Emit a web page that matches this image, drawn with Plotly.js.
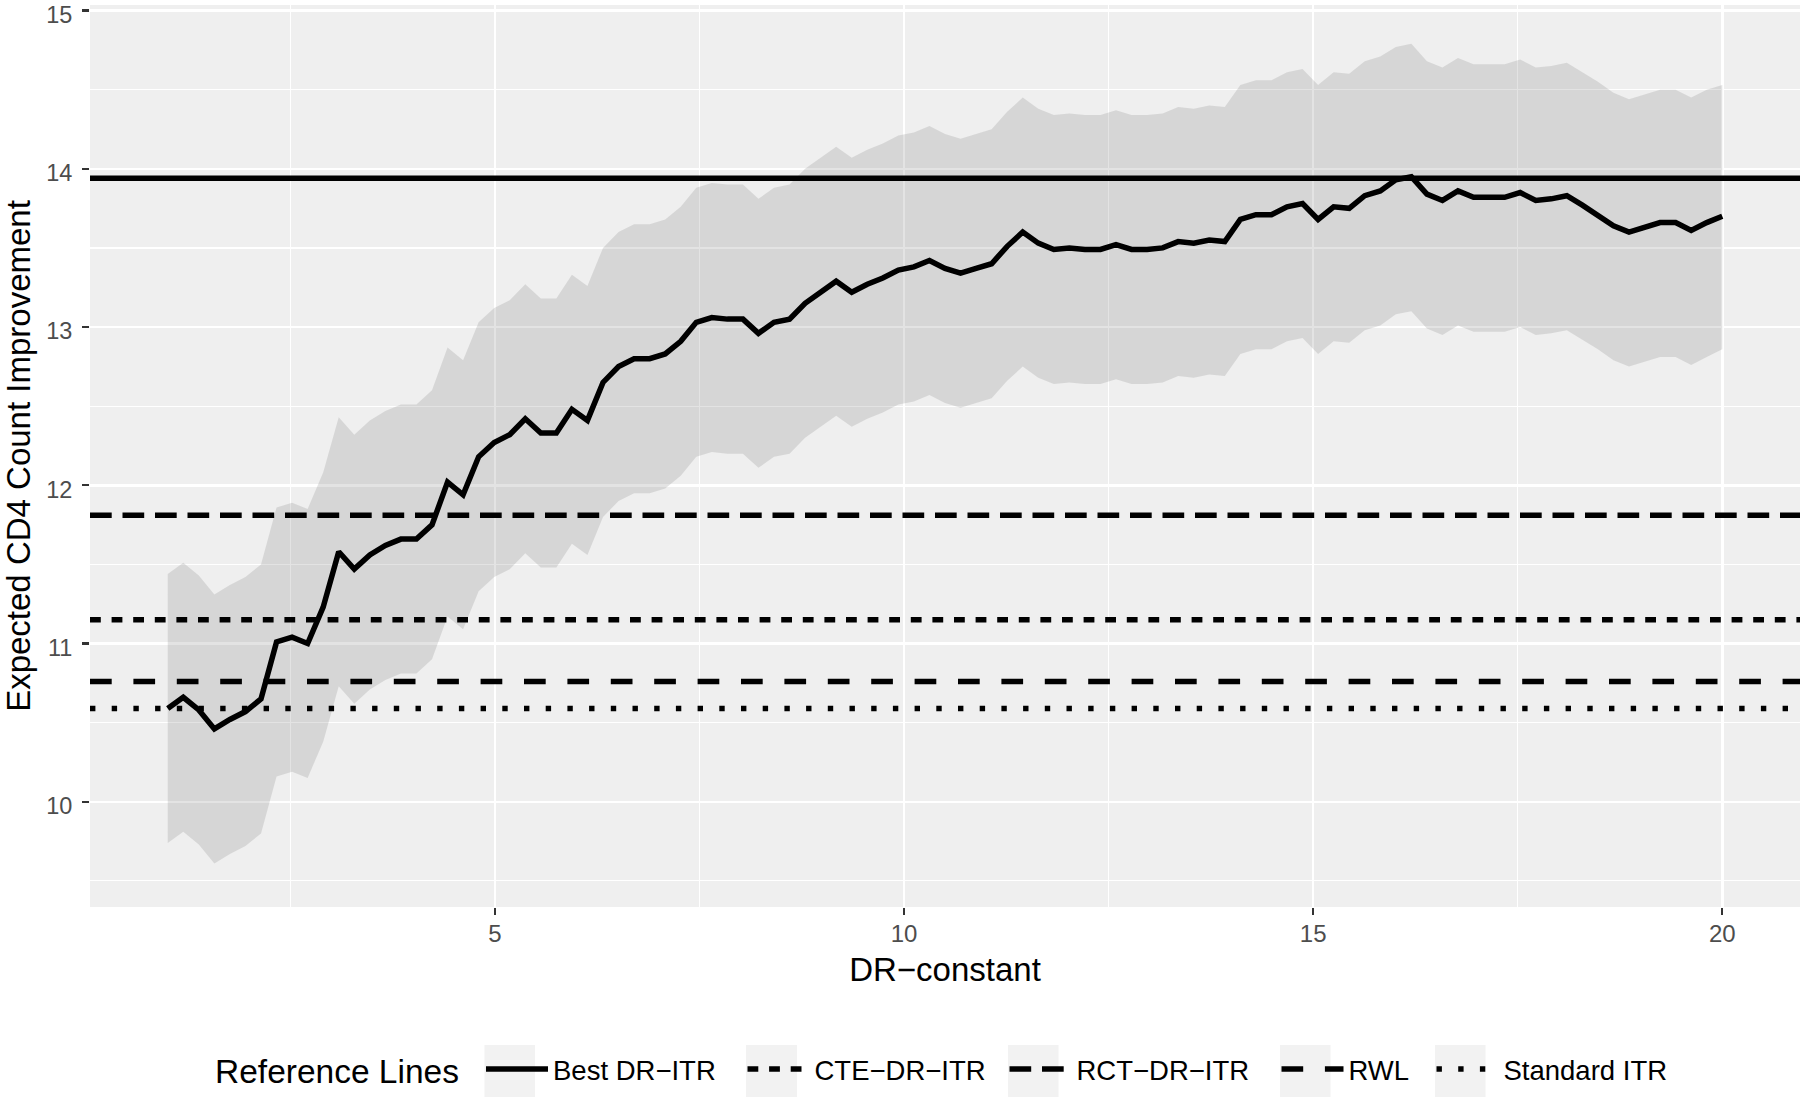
<!DOCTYPE html>
<html>
<head>
<meta charset="utf-8">
<script src="https://cdn.plot.ly/plotly-3.0.1.min.js"></script>
<style>
  html, body { margin: 0; padding: 0; background: #ffffff; }
  #chart { width: 1800px; height: 1097px; }
</style>
</head>
<body>
<div id="chart"></div>
<script>
// DR-constant grid: seq(1, 20, length.out = 101)
const xStart = 1, xEnd = 20, nPoints = 101;
const drConstant = [];
for (let i = 0; i < nPoints; i++) {
  drConstant.push(+(xStart + (xEnd - xStart) * i / (nPoints - 1)).toFixed(2));
}

// Expected CD4 count improvement
const expectedImprovement = [
  10.59, 10.66, 10.58, 10.46, 10.52, 10.57, 10.65, 11.01, 11.04, 11.00,
  11.23, 11.58, 11.47, 11.56, 11.62, 11.66, 11.66, 11.75, 12.02, 11.94,
  12.18, 12.27, 12.32, 12.42, 12.33, 12.33, 12.48, 12.41, 12.65, 12.75,
  12.80, 12.80, 12.83, 12.91, 13.03, 13.06, 13.05, 13.05, 12.96, 13.03,
  13.05, 13.15, 13.22, 13.29, 13.22, 13.27, 13.31, 13.36, 13.38, 13.42,
  13.37, 13.34, 13.37, 13.40, 13.51, 13.60, 13.53, 13.49, 13.50, 13.49,
  13.49, 13.52, 13.49, 13.49, 13.50, 13.54, 13.53, 13.55, 13.54, 13.68,
  13.71, 13.71, 13.76, 13.78, 13.68, 13.76, 13.75, 13.83, 13.86, 13.93,
  13.95, 13.84, 13.80, 13.86, 13.82, 13.82, 13.82, 13.85, 13.80, 13.81,
  13.83, 13.77, 13.71, 13.64, 13.60, 13.63, 13.66, 13.66, 13.61, 13.66,
  13.70
];

// Upper band edge
const bandUpper = [
  11.44, 11.51, 11.43, 11.31, 11.37, 11.42, 11.50, 11.86, 11.89, 11.85,
  12.08, 12.43, 12.32, 12.41, 12.47, 12.51, 12.51, 12.60, 12.87, 12.79,
  13.03, 13.12, 13.17, 13.27, 13.18, 13.18, 13.33, 13.26, 13.50, 13.60,
  13.65, 13.65, 13.68, 13.76, 13.88, 13.91, 13.90, 13.90, 13.81, 13.88,
  13.90, 14.00, 14.07, 14.14, 14.07, 14.12, 14.16, 14.21, 14.23, 14.27,
  14.22, 14.19, 14.22, 14.25, 14.36, 14.45, 14.38, 14.34, 14.35, 14.34,
  14.34, 14.37, 14.34, 14.34, 14.35, 14.39, 14.38, 14.40, 14.39, 14.53,
  14.56, 14.56, 14.61, 14.63, 14.53, 14.61, 14.60, 14.68, 14.71, 14.77,
  14.79, 14.68, 14.64, 14.70, 14.66, 14.66, 14.66, 14.69, 14.64, 14.65,
  14.67, 14.61, 14.55, 14.48, 14.44, 14.47, 14.50, 14.50, 14.45, 14.50,
  14.53
];

// Lower band edge
const bandLower = [
  9.74, 9.81, 9.73, 9.61, 9.67, 9.72, 9.80, 10.16, 10.19, 10.15,
  10.38, 10.73, 10.62, 10.71, 10.77, 10.81, 10.81, 10.90, 11.17, 11.09,
  11.33, 11.42, 11.47, 11.57, 11.48, 11.48, 11.63, 11.56, 11.80, 11.90,
  11.95, 11.95, 11.98, 12.06, 12.18, 12.21, 12.20, 12.20, 12.11, 12.18,
  12.20, 12.30, 12.37, 12.44, 12.37, 12.42, 12.46, 12.51, 12.53, 12.57,
  12.52, 12.49, 12.52, 12.55, 12.66, 12.75, 12.68, 12.64, 12.65, 12.64,
  12.64, 12.67, 12.64, 12.64, 12.65, 12.69, 12.68, 12.70, 12.69, 12.83,
  12.86, 12.86, 12.91, 12.93, 12.83, 12.91, 12.90, 12.98, 13.01, 13.08,
  13.10, 12.99, 12.95, 13.01, 12.97, 12.97, 12.97, 13.00, 12.95, 12.96,
  12.98, 12.92, 12.86, 12.79, 12.75, 12.78, 12.81, 12.81, 12.76, 12.81,
  12.86
];

// Reference lines
const refNames  = ["Best DR\u2212ITR", "CTE\u2212DR\u2212ITR", "RCT\u2212DR\u2212ITR", "RWL", "Standard ITR"];
const refValues = [13.94, 11.15, 11.81, 10.76, 10.59];
const refDashes = ["solid", "10.8px,10.8px", "21.7px,10.8px", "21.7px,21.7px", "5.4px,16.3px"];

// ---- styling / layout constants ----
const xRange = [0.05, 20.95];
const yRange = [9.335, 15.035];
const FONT = "'Liberation Sans', Arial, Helvetica, sans-serif";
const W = 1800, H = 1097;
const M = { l: 90, r: 0, t: 5, b: 190 };
const plotW = W - M.l - M.r, plotH = H - M.t - M.b;
const px2paperX = px => (px - M.l) / plotW;
const px2paperY = py => (H - M.b - py) / plotH;

// legend entry geometry (pixels)
const legendItemWidths = [184.5, 185, 195, 78, 170];
const legendStartPx = 481;
const legendCenterPx = 1069;
const keyBoxes = [[484.5, 535], [746, 797], [1008, 1058.5], [1280, 1330.5], [1435, 1485.5]];

const traces = [
  { x: drConstant, y: bandLower, type: "scatter", mode: "lines",
    line: { width: 0, color: "rgba(0,0,0,0)" }, showlegend: false, hoverinfo: "skip" },
  { x: drConstant, y: bandUpper, type: "scatter", mode: "lines", fill: "tonexty",
    fillcolor: "rgba(128,128,128,0.225)",
    line: { width: 0, color: "rgba(0,0,0,0)" }, showlegend: false, hoverinfo: "skip" },
  { x: drConstant, y: expectedImprovement, type: "scatter", mode: "lines",
    line: { color: "#000000", width: 5.5 }, showlegend: false }
];

refNames.forEach((nm, k) => {
  traces.push({
    x: [xRange[0], xRange[1]], y: [refValues[k], refValues[k]],
    type: "scatter", mode: "lines", name: nm,
    legendwidth: legendItemWidths[k],
    line: { color: "#000000", width: 5.5, dash: refDashes[k] }
  });
});

const shapes = keyBoxes.map(b => ({
  type: "rect", xref: "paper", yref: "paper",
  x0: px2paperX(b[0]), x1: px2paperX(b[1]),
  y0: px2paperY(1045), y1: px2paperY(1097),
  fillcolor: "#F2F2F2", line: { width: 0 }, layer: "below"
}));

const layout = {
  width: W, height: H,
  margin: M,
  paper_bgcolor: "#ffffff",
  plot_bgcolor: "#EFEFEF",
  font: { family: FONT, color: "#000000" },
  xaxis: {
    range: xRange, tick0: 0, dtick: 5,
    showgrid: true, gridcolor: "#ffffff", gridwidth: 2.5,
    minor: { dtick: 2.5, tick0: 0, showgrid: true, gridcolor: "#ffffff", gridwidth: 1.2, ticks: "" },
    zeroline: false, showline: false,
    ticks: "outside", ticklen: 7, tickwidth: 2.2, tickcolor: "#333333",
    ticklabelstandoff: -2, ticklabeloverflow: "allow",
    tickfont: { family: FONT, size: 24, color: "#4D4D4D" },
    title: { text: "DR\u2212constant", font: { family: FONT, size: 33, color: "#000000" }, standoff: 12 }
  },
  yaxis: {
    range: yRange, tick0: 0, dtick: 1,
    showgrid: true, gridcolor: "#ffffff", gridwidth: 2.5,
    minor: { dtick: 0.5, tick0: 0, showgrid: true, gridcolor: "#ffffff", gridwidth: 1.2, ticks: "" },
    zeroline: false, showline: false,
    ticks: "outside", ticklen: 7, tickwidth: 2.2, tickcolor: "#333333",
    ticklabelstandoff: 5, ticklabeloverflow: "allow", ticklabelshift: 4,
    tickfont: { family: FONT, size: 23.5, color: "#4D4D4D" },
    title: { text: "Expected CD4 Count Improvement", font: { family: FONT, size: 33, color: "#000000" }, standoff: 16 }
  },
  shapes: shapes,
  annotations: [{
    text: "Reference Lines", xref: "paper", yref: "paper",
    x: px2paperX(213), y: px2paperY(1071),
    xanchor: "left", yanchor: "middle", showarrow: false,
    font: { family: FONT, size: 33.5, color: "#000000" }
  }],
  showlegend: true,
  legend: {
    orientation: "h", traceorder: "normal",
    xref: "container", yref: "container",
    x: legendStartPx / W, xanchor: "left",
    y: (H - legendCenterPx) / H, yanchor: "middle",
    bgcolor: "rgba(0,0,0,0)",
    itemwidth: 62,
    font: { family: FONT, size: 27.5, color: "#000000" }
  }
};

Plotly.newPlot("chart", traces, layout, { displayModeBar: false, staticPlot: true });
</script>
</body>
</html>
